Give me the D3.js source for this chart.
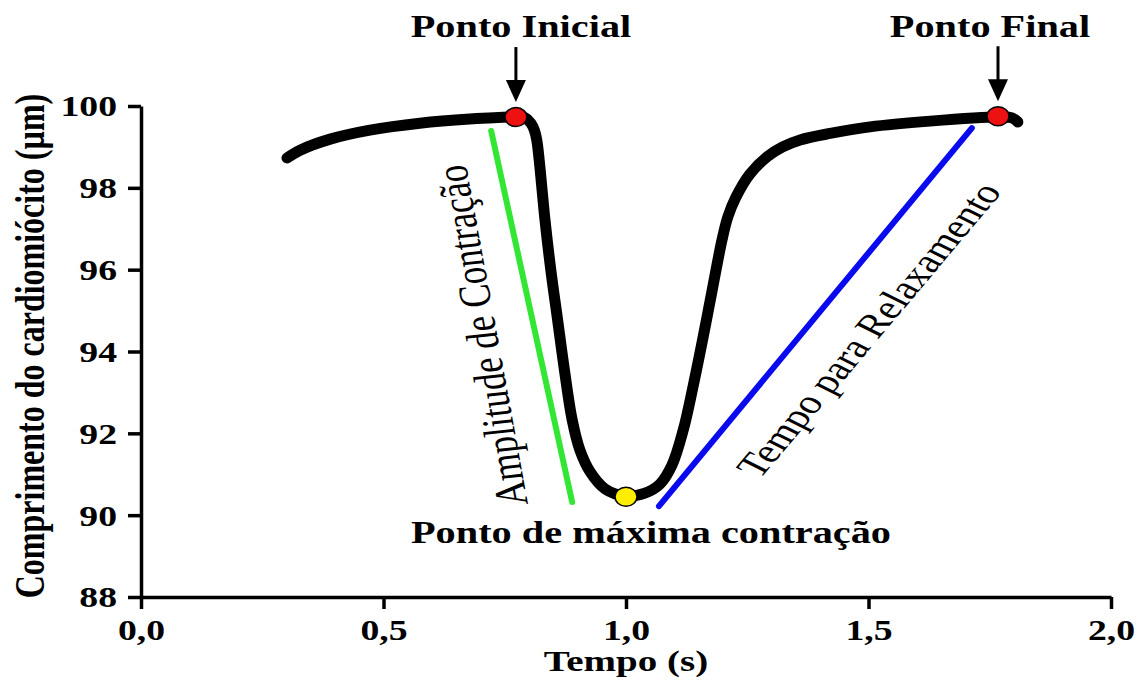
<!DOCTYPE html>
<html>
<head>
<meta charset="utf-8">
<script src="https://cdn.jsdelivr.net/npm/d3@7"></script>
<style>
  body { margin: 0; background: #fff; }
  svg { display: block; }
  text { font-family: "Liberation Serif", "Times New Roman", serif; }
</style>
</head>
<body>
<svg id="chart" width="1144" height="681"></svg>
<script>

// cell length trace (time in s, length in um)
var timeS = [0.301, 0.328, 0.390, 0.472, 0.575, 0.678, 0.773, 0.792, 0.804, 0.811,
    0.816, 0.821, 0.826, 0.833, 0.845, 0.859, 0.873, 0.889, 0.905, 0.926,
    0.957, 0.998, 1.039, 1.070, 1.095, 1.118, 1.138, 1.159, 1.179, 1.198,
    1.210, 1.227, 1.255, 1.291, 1.323, 1.359, 1.421, 1.503, 1.627, 1.767,
    1.796, 1.808];
var lengthUm = [98.73, 98.92, 99.19, 99.41, 99.58, 99.68, 99.73, 99.71, 99.58, 99.41,
    99.17, 98.68, 98.07, 97.21, 95.99, 94.77, 93.55, 92.33, 91.59, 91.06,
    90.64, 90.47, 90.54, 90.76, 91.23, 92.08, 93.13, 94.35, 95.58, 96.73,
    97.29, 97.78, 98.33, 98.76, 99.00, 99.17, 99.33, 99.49, 99.63, 99.73,
    99.71, 99.61];

// marked points
var pointNames = ["Ponto Inicial", "Ponto de máxima contração", "Ponto Final"];
var pointTime = [0.773, 1.0, 1.767];
var pointLength = [99.73, 90.45, 99.75];
var pointColors = ["#ee1111", "#ffee00", "#ee1111"];

// guide segments [time, length] start / end
var amplitudeLine = [[0.722, 99.39], [0.889, 90.32]];
var relaxLine = [[1.713, 99.46], [1.068, 90.22]];

var xTicks = [0, 0.5, 1, 1.5, 2];
var xTickLabels = ["0,0", "0,5", "1,0", "1,5", "2,0"];
var yTicks = [88, 90, 92, 94, 96, 98, 100];

var SX = 1.3; // the original picture is stretched horizontally

var svg = d3.select("#chart");

var x = d3.scaleLinear().domain([0, 2]).range([141, 1111]);
var y = d3.scaleLinear().domain([88, 100]).range([597, 106]);

// axes
var xAxis = d3.axisBottom(x)
    .tickValues(xTicks)
    .tickFormat(function (d, i) { return xTickLabels[i]; })
    .tickSize(12)
    .tickSizeOuter(0);

var yAxis = d3.axisLeft(y)
    .tickValues(yTicks)
    .tickSize(13)
    .tickSizeOuter(0);

var gx = svg.append("g")
    .attr("transform", "translate(0," + y(88) + ")")
    .call(xAxis);

var gy = svg.append("g")
    .attr("transform", "translate(" + x(0) + ",0)")
    .call(yAxis);

[gx, gy].forEach(function (g) {
    g.select(".domain").attr("stroke", "#000").attr("stroke-width", 3.5);
    g.selectAll(".tick line").attr("stroke", "#000").attr("stroke-width", 3.5);
});

gx.selectAll(".tick text")
    .attr("y", null).attr("dy", null)
    .attr("transform", "translate(0,43) scale(" + SX + ",1)")
    .style("font-size", "29px")
    .style("font-weight", "bold")
    .attr("fill", "#000");

gy.selectAll(".tick text")
    .attr("x", null)
    .attr("dy", "0.34em")
    .attr("transform", "translate(-24,0) scale(" + SX + ",1)")
    .style("font-size", "29px")
    .style("font-weight", "bold")
    .attr("fill", "#000");

// helper for stretched text
function label(txt, px, py, size, bold, angle) {
    return svg.append("text")
        .attr("transform", "translate(" + px + "," + py + ") scale(" + SX + ",1)" +
            (angle ? " rotate(" + angle + ")" : ""))
        .attr("text-anchor", "middle")
        .style("font-size", size + "px")
        .style("font-weight", bold ? "bold" : "normal")
        .attr("fill", "#000")
        .text(txt);
}

label("Tempo (s)", 626, 671, 30, true);
svg.append("text")
    .attr("transform", "translate(44,346) scale(" + SX + ",1) rotate(-90)")
    .attr("text-anchor", "middle")
    .style("font-size", "32px")
    .style("font-weight", "bold")
    .text("Comprimento do cardiomiócito (µm)");

// guide lines
var seg = d3.line().x(function (d) { return x(d[0]); }).y(function (d) { return y(d[1]); });

svg.append("path")
    .attr("d", seg(amplitudeLine))
    .attr("stroke", "#33e633")
    .attr("stroke-width", 6)
    .attr("stroke-linecap", "round");

svg.append("path")
    .attr("d", seg(relaxLine))
    .attr("stroke", "#0a0aee")
    .attr("stroke-width", 6)
    .attr("stroke-linecap", "round");

label("Amplitude de Contração", 497, 334, 35, false, -98);
label("Tempo para Relaxamento", 881, 336, 33.5, false, -57);

// trace
var line = d3.line()
    .x(function (d, i) { return x(timeS[i]); })
    .y(function (d, i) { return y(lengthUm[i]); })
    .curve(d3.curveCatmullRom.alpha(0.5));

svg.append("path")
    .attr("d", line(timeS))
    .attr("fill", "none")
    .attr("stroke", "#000")
    .attr("stroke-width", 11)
    .attr("stroke-linecap", "round")
    .attr("stroke-linejoin", "round");

// markers
pointTime.forEach(function (t, i) {
    svg.append("ellipse")
        .attr("cx", x(t))
        .attr("cy", y(pointLength[i]))
        .attr("rx", 11)
        .attr("ry", 9.5)
        .attr("fill", pointColors[i])
        .attr("stroke", "#000")
        .attr("stroke-width", 1.5);
});

// arrows above start / end points
[0, 2].forEach(function (i) {
    var px = x(pointTime[i]);
    var py = y(pointLength[i]);
    svg.append("line")
        .attr("x1", px).attr("x2", px)
        .attr("y1", py - 70).attr("y2", py - 30)
        .attr("stroke", "#000")
        .attr("stroke-width", 3);
    svg.append("path")
        .attr("d", "M" + (px - 10) + "," + (py - 37) + "L" + (px + 10) + "," + (py - 37) +
            "L" + px + "," + (py - 15) + "Z")
        .attr("fill", "#000");
});

label(pointNames[0], 521, 37, 31, true);
label(pointNames[2], 990, 37, 31, true);
label(pointNames[1], 651, 543, 31, true);

</script>
</body>
</html>
